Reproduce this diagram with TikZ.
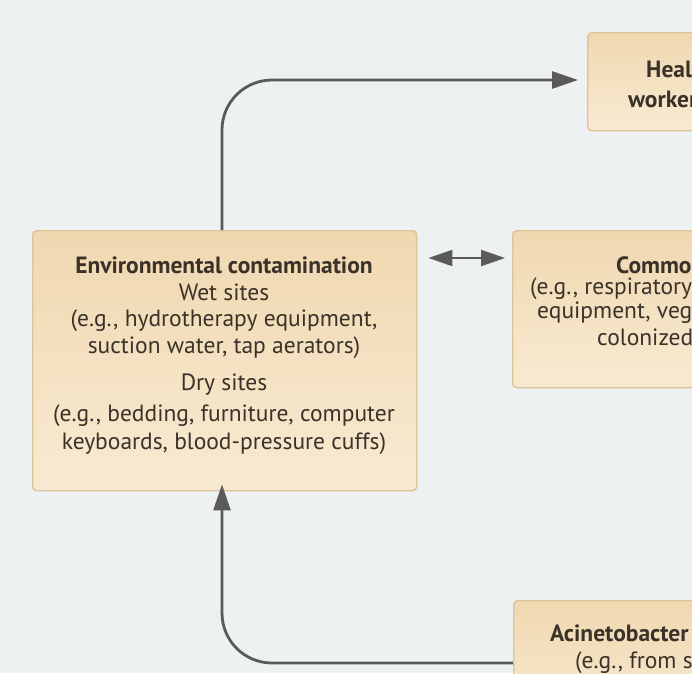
\documentclass[tikz,border=0pt]{standalone}
\usepackage{fontspec}
\setmainfont{PT Sans}
\usetikzlibrary{arrows.meta}
\definecolor{bg}{HTML}{EEF1F1}
\definecolor{boxtop}{HTML}{F0D8B0}
\definecolor{boxbot}{HTML}{F8EAD2}
\definecolor{boxedge}{HTML}{DCC39A}
\definecolor{arr}{HTML}{5A5A5A}
\definecolor{txt}{HTML}{3A3129}
\tikzset{
  boxnode/.style={draw=boxedge, line width=1.4pt, rounded corners=4pt, top color=boxtop, bottom color=boxbot, anchor=north west, inner sep=0pt},
  lbl/.style={text=txt, font=\fontsize{23.5}{27}\selectfont, inner sep=0pt},
  lblb/.style={lbl, font=\fontsize{23.5}{27}\selectfont\bfseries},
  conn/.style={draw=arr, line width=2.8pt, -{Triangle[length=26pt,width=17pt]}},
  dconn/.style={draw=arr, line width=2.2pt, {Triangle[length=24pt,width=16pt]}-{Triangle[length=24pt,width=16pt]}}
}
\begin{document}
\begin{tikzpicture}[x=1pt,y=-1pt]
\useasboundingbox (0,0) rectangle (692,673);
\fill[bg] (0,0) rectangle (692,673);
\clip (0,0) rectangle (692,673);
% boxes
\node[boxnode, minimum width=384pt, minimum height=260pt] (env) at (32,230) {};
\node[boxnode, minimum width=130pt, minimum height=98pt] (hcw) at (587,32) {};
\node[boxnode, minimum width=200pt, minimum height=157pt] (com) at (512,230) {};
\node[boxnode, minimum width=200pt, minimum height=120pt] (aci) at (513,600) {};
% env text
\node[lblb] (e1) at (224,265) {Environmental contamination};
\node[lbl] (e2) at (224,292) {Wet sites};
\node[lbl] (e3) at (224,321) {(e.g., hydrotherapy equipment,};
\node[lbl] (e4) at (224,348) {suction water, tap aerators)};
\node[lbl] (e5) at (224,385) {Dry sites};
\node[lbl] (e6) at (224,416) {(e.g., bedding, furniture, computer};
\node[lbl] (e7) at (224,444) {keyboards, blood-pressure cuffs)};
% health care worker text
\node[lblb, anchor=west] (h1) at (646,69) {Heal};
\node[lblb, anchor=west] (h2) at (628,99) {worker};
% common text
\node[lblb, anchor=west] (c1) at (616,265) {Commo};
\node[lbl, anchor=west] (c2) at (530,289) {(e.g., respiratory};
\node[lbl, anchor=west] (c3) at (537,313) {equipment, veg};
\node[lbl, anchor=west] (c4) at (597,337) {colonized};
% acinetobacter text
\node[lblb, anchor=west] (a1) at (550,633) {Acinetobacter};
\node[lbl, anchor=west] (a2) at (575,663) {(e.g., from s};
% connectors
\coordinate (hcwin) at (hcw.west |- 0,80);
\draw[conn, rounded corners=50pt] (env.north -| 222,0) |- ([xshift=-9pt]hcwin);
\coordinate (envr) at (env.east |- 0,258);
\coordinate (coml) at (com.west |- 0,258);
\draw[dconn] ([xshift=11pt]envr) -- ([xshift=-7pt]coml);
\coordinate (acil) at (aci.west |- 0,663);
\coordinate (envb) at (env.south -| 222,0);
\draw[conn, rounded corners=50pt] (acil) -| ([yshift=7pt]envb);
\end{tikzpicture}
\end{document}
